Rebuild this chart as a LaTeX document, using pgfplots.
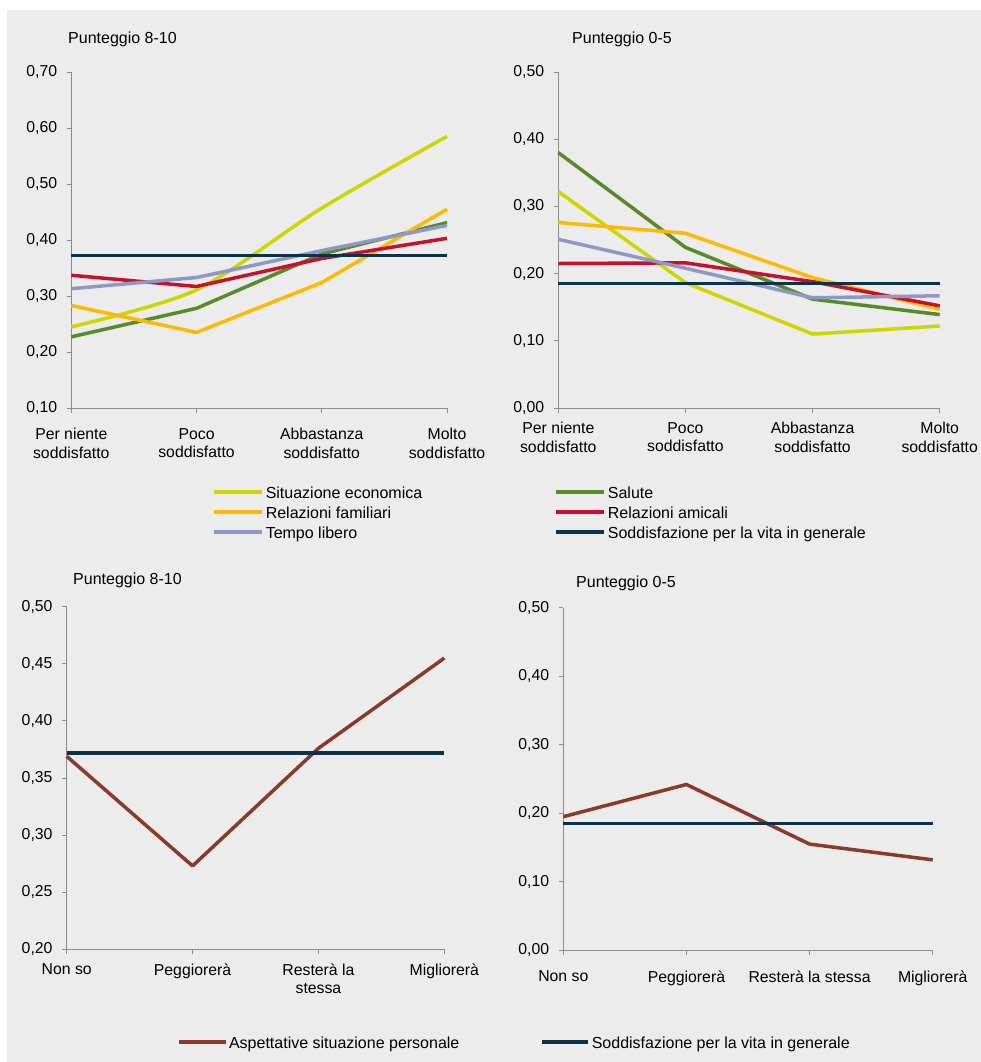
\documentclass[border=0pt]{standalone}
\usepackage{pgfplots}
\pgfplotsset{compat=1.18}
\usepackage{fontspec}
\setmainfont{Liberation Sans}
\definecolor{bg}{RGB}{235,236,235}
\definecolor{axisgray}{RGB}{140,140,140}
\definecolor{cEco}{RGB}{204,214,0}
\definecolor{cSal}{RGB}{88,138,40}
\definecolor{cFam}{RGB}{255,185,0}
\definecolor{cAmi}{RGB}{200,16,46}
\definecolor{cTem}{RGB}{143,151,201}
\definecolor{cSod}{RGB}{12,50,72}
\definecolor{cAsp}{RGB}{140,58,40}
\newcommand\tickfont{\fontsize{15.8bp}{18.4bp}\selectfont}
\newcommand\lgs{\rule[-4bp]{0pt}{16.3bp}}
\pgfplotsset{
  panel/.style={
    scale only axis, clip=false,
    axis lines=left,
    axis line style={draw=axisgray, line width=0.8bp, -},
    xmin=0, xmax=3, xtick={0,1,2,3},
    tick align=outside, major tick length=4.7bp,
    tick style={draw=axisgray, line width=0.8bp},
    ticklabel style={font=\tickfont, text=black},
    yticklabel style={anchor=east, inner sep=0pt, xshift=-9.3bp,
      /pgf/number format/fixed, /pgf/number format/fixed zerofill,
      /pgf/number format/precision=2, /pgf/number format/use comma,
      /pgf/number format/assume math mode=true},
    xticklabel style={anchor=north, inner sep=0pt, align=center},
    title style={font=\fontsize{16bp}{19bp}\selectfont, anchor=base west, inner sep=0pt},
    every axis plot/.append style={line width=3.5bp, line join=round},
  },
  mylegend/.style={legend columns=2,
    legend style={at={(0,0)}, anchor=north west,
      draw=none, fill=none, inner sep=0pt, outer sep=0pt, row sep=3.7bp, column sep=0pt,
      cells={anchor=base west},
      nodes={inner sep=0pt, text depth=4bp}, font=\fontsize{16bp}{19bp}\selectfont}},
}
\begin{document}
\begin{tikzpicture}
\useasboundingbox (0,0) rectangle (981bp,1062bp);
\fill[white] (0,0) rectangle (981bp,1062bp);
\fill[bg] (7bp,0) rectangle (981bp,1052bp);

% Panel 1
\begin{axis}[panel, at={(71.3bp,654bp)}, anchor=south west,
  width=375.7bp, height=336bp, ymin=0.1, ymax=0.7, ytick={0.1,0.2,...,0.71},
  xticklabels={{Per niente\\soddisfatto},{Poco\\soddisfatto},{Abbastanza\\soddisfatto},{Molto\\soddisfatto}},
  xticklabel style={yshift=-15.6bp},
  title={Punteggio 8-10}, title style={at={(0,1)}, xshift=-3.3bp, yshift=22.7bp},
  mylegend, legend style={xshift=141bp, yshift=-78.4bp},
  legend image code/.code={\draw[#1, line width=4bp] (0bp,6.2bp) -- (47.4bp,6.2bp); \path (49.7bp,6.2bp);},
]
\addplot[cEco, smooth] coordinates {(0,0.245) (1,0.311) (2,0.457) (3,0.585)};
\addlegendentry{\makebox[288.7bp][l]{\lgs Situazione economica}}
\addplot[cSal] coordinates {(0,0.227) (1,0.278) (2,0.375) (3,0.431)};
\addlegendentry{\lgs Salute}
\addplot[cFam] coordinates {(0,0.283) (1,0.235) (2,0.324) (3,0.455)};
\addlegendentry{\makebox[288.7bp][l]{\lgs Relazioni familiari}}
\addplot[cAmi] coordinates {(0,0.337) (1,0.317) (2,0.367) (3,0.403)};
\addlegendentry{\lgs Relazioni amicali}
\addplot[cTem] coordinates {(0,0.313) (1,0.333) (2,0.381) (3,0.426)};
\addlegendentry{\makebox[288.7bp][l]{\lgs Tempo libero}}
\addplot[cSod] coordinates {(0,0.372) (1,0.372) (2,0.372) (3,0.372)};
\addlegendentry{\lgs Soddisfazione per la vita in generale}
\end{axis}

% Panel 2
\begin{axis}[panel, at={(558.3bp,654bp)}, anchor=south west,
  width=381.4bp, height=336bp, ymin=0, ymax=0.5, ytick={0,0.1,...,0.51},
  xticklabels={{Per niente\\soddisfatto},{Poco\\soddisfatto},{Abbastanza\\soddisfatto},{Molto\\soddisfatto}},
  xticklabel style={yshift=-9.6bp},
  title={Punteggio 0-5}, title style={at={(0,1)}, xshift=13.7bp, yshift=22.7bp},
]
\addplot[cEco] coordinates {(0,0.322) (1,0.1865) (2,0.110) (3,0.122)};
\addplot[cSal] coordinates {(0,0.380) (1,0.239) (2,0.162) (3,0.139)};
\addplot[cFam] coordinates {(0,0.276) (1,0.260) (2,0.194) (3,0.147)};
\addplot[cAmi] coordinates {(0,0.215) (1,0.216) (2,0.188) (3,0.152)};
\addplot[cTem] coordinates {(0,0.251) (1,0.208) (2,0.164) (3,0.167)};
\addplot[cSod] coordinates {(0,0.185) (1,0.185) (2,0.185) (3,0.185)};
\end{axis}

% Panel 3
\begin{axis}[panel, at={(66.7bp,112.7bp)}, anchor=south west,
  width=377.6bp, height=342.6bp, ymin=0.2, ymax=0.5, ytick={0.2,0.25,...,0.51},
  xticklabels={{Non so},{Peggiorerà},{Resterà la\\stessa},{Migliorerà}},
  xticklabel style={yshift=-9.3bp},
  title={Punteggio 8-10}, title style={at={(0,1)}, xshift=6.3bp, yshift=16.7bp},
  mylegend, legend style={xshift=110.6bp, yshift=-86.7bp},
  legend image code/.code={\draw[#1, line width=4bp] (0bp,6bp) -- (46.4bp,6bp); \path (48bp,6bp);},
]
\addplot[cAsp] coordinates {(0,0.369) (1,0.273) (2,0.376) (3,0.455)};
\addlegendentry{\makebox[311bp][l]{\lgs Aspettative situazione personale}}
\addplot[cSod] coordinates {(0,0.372) (1,0.372) (2,0.372) (3,0.372)};
\addlegendentry{\lgs Soddisfazione per la vita in generale}
\end{axis}

% Panel 4
\begin{axis}[panel, at={(563.3bp,111.7bp)}, anchor=south west,
  width=369.4bp, height=342.6bp, ymin=0, ymax=0.5, ytick={0,0.1,...,0.51},
  xticklabels={{Non so},{Peggiorerà},{Resterà la stessa},{Migliorerà}},
  xticklabel style={yshift=-15.7bp},
  title={Punteggio 0-5}, title style={at={(0,1)}, xshift=12.7bp, yshift=14.4bp},
]
\addplot[cAsp] coordinates {(0,0.195) (1,0.242) (2,0.155) (3,0.132)};
\addplot[cSod] coordinates {(0,0.185) (1,0.185) (2,0.185) (3,0.185)};
\end{axis}
\end{tikzpicture}
\end{document}
